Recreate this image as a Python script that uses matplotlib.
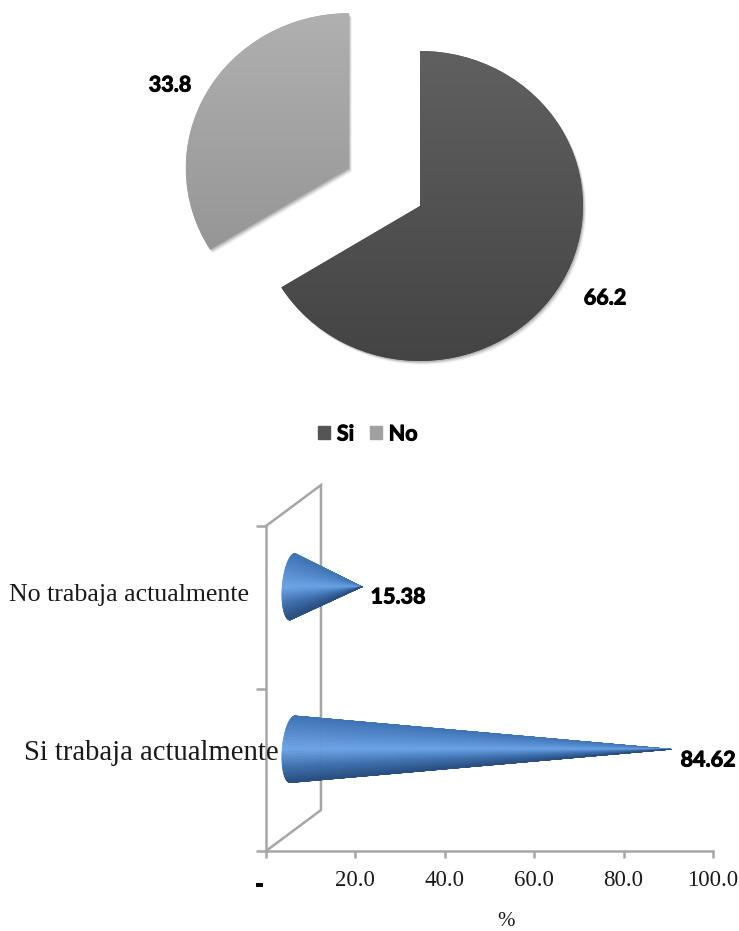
import numpy as np
import matplotlib
matplotlib.use("Agg")
import matplotlib.pyplot as plt
import matplotlib.patheffects as pe
from matplotlib.collections import PolyCollection
from matplotlib.colors import LinearSegmentedColormap
from matplotlib.patches import Patch
from matplotlib.transforms import ScaledTranslation

pie_labels = ['Si', 'No']
pie_values = [66.2, 33.8]
pie_colors = ['#555555', '#a0a0a0']
pie_grads = [['#606060', '#444444'], ['#b0b0b0', '#8e8e8e']]

cone_labels = ['Si trabaja actualmente', 'No trabaja actualmente']
cone_values = [84.62, 15.38]
x_ticks = [0, 20, 40, 60, 80, 100]
x_ticklabels = ['-', '20.0', '40.0', '60.0', '80.0', '100.0']

W, H = 739, 931
fig = plt.figure(figsize=(W / 100, H / 100), dpi=100)
serif = 'Liberation Serif'
bold = 'Lato'
grey = '#a6a6a6'
ink = '#1a1a1a'
heavy = [pe.withStroke(linewidth=0.7, foreground='black')]

# pie, slightly squashed like the 3D view in the original
rx, ry = 163, 155
cx, cy = 420, 206
xl = (-2.0, 1.2)
yl = (-1.2, 1.32)
ax = fig.add_axes([(cx + xl[0] * rx) / W, (H - cy + yl[0] * ry) / H,
                   (xl[1] - xl[0]) * rx / W, (yl[1] - yl[0]) * ry / H])
wedges, _ = ax.pie(pie_values, startangle=90, counterclock=False,
                   explode=[0, 0.5], colors=pie_colors)
ax.set_aspect('auto')
for w, g in zip(wedges, pie_grads):
    cmap = LinearSegmentedColormap.from_list('g', g)
    im = ax.imshow(np.linspace(0, 1, 256).reshape(-1, 1), cmap=cmap,
                   extent=(w.center[0] - 1, w.center[0] + 1, w.center[1] - 1, w.center[1] + 1),
                   origin='upper', aspect='auto', zorder=3)
    im.set_clip_path(w)
    w.set_edgecolor('none')
    # soft shadow under the slice
    w.set_path_effects([pe.SimplePatchShadow(offset=(2.2, -2.6), shadow_rgbFace='k', alpha=0.06),
                        pe.SimplePatchShadow(offset=(1.5, -1.8), shadow_rgbFace='k', alpha=0.10),
                        pe.SimplePatchShadow(offset=(0.8, -1), shadow_rgbFace='k', alpha=0.14),
                        pe.Normal()])
ax.set_xlim(xl)
ax.set_ylim(yl)
ax.set_axis_off()

def px_text(x, y, s, **kw):
    return fig.text(x / W, 1 - y / H, s, va='center', **kw)

def val_text(x, y, s):
    px_text(x, y, s, family=bold, weight='bold', size=15.5, ha='center', color='black',
            path_effects=heavy)

val_text(170, 85, f'{pie_values[1]}')
val_text(605, 298, f'{pie_values[0]}')

handles = [Patch(color=c, label=l) for c, l in zip(pie_colors, pie_labels)]
leg = fig.legend(handles=handles, loc='center', bbox_to_anchor=(368 / W, 1 - 434 / H), ncol=2,
                 frameon=False, handlelength=0.56, handleheight=0.56, handletextpad=0.3,
                 columnspacing=0.75, prop={'family': bold, 'weight': 'bold', 'size': 15.5})
for t in leg.get_texts():
    t.set_path_effects(heavy)

# cones
ax2 = fig.add_axes([266 / W, (H - 851) / H, 447 / W, 325 / H])
ax2.set_xlim(0, 100)
ax2.set_ylim(0, 2)
ax2.patch.set_visible(False)
for s in ['top', 'right']:
    ax2.spines[s].set_visible(False)
for s in ['left', 'bottom']:
    ax2.spines[s].set_color(grey)
    ax2.spines[s].set_linewidth(1.8)
ax2.set_xticks(x_ticks)
ax2.set_xticklabels(x_ticklabels, family=serif, size=16.5)
ax2.set_yticks([0, 1, 2])
ax2.set_yticklabels([])
ax2.tick_params(axis='x', color=grey, width=1.8, length=5, pad=9, labelcolor=ink)
ax2.tick_params(axis='y', color=grey, width=1.8, length=7)
zero = ax2.get_xticklabels()[0]
zero.set_family(bold)
zero.set_fontweight('bold')
zero.set_size(17)
zero.set_color('black')
zero.set_path_effects(heavy)
zero.set_transform(zero.get_transform() + ScaledTranslation(-7 / 100, -2 / 100, fig.dpi_scale_trans))

# back wall
dx, dy = 12.3, 0.252
ax2.plot([0, dx, dx, 0], [0, dy, 2 + dy, 2], color=grey, lw=1.8, clip_on=False,
         solid_joinstyle='miter', zorder=1)

cone_cmap = LinearSegmentedColormap.from_list(
    'cone', ['#2a4f80', '#3f72b0', '#6aa2e6', '#5389cc', '#3f74b4'])
th = np.linspace(np.pi / 2, 3 * np.pi / 2, 161)
for i, v in enumerate(cone_values):
    yc = i + 0.5 + dy / 2
    xc = dx / 2 - 0.2
    bx = xc + 2.35 * np.cos(th) + 0.56 * np.sin(th)
    by = yc + 0.206 * np.sin(th)
    tip = (dx / 2 + v, yc)
    polys = [[(bx[k], by[k]), (bx[k + 1], by[k + 1]), tip] for k in range(len(th) - 1)]
    shade = (np.sin((th[:-1] + th[1:]) / 2) + 1) / 2
    pc = PolyCollection(polys, array=shade, cmap=cone_cmap, clim=(0, 1),
                        edgecolors='face', linewidths=0.3, clip_on=False, zorder=3)
    ax2.add_collection(pc)

# labels
label_right = [279, 249]
label_y = [753, 595]
label_size = [20.6, 18.6]
for lab, r, y, sz in zip(cone_labels, label_right, label_y, label_size):
    px_text(r, y, lab, family=serif, size=sz, ha='right', color=ink)
val_x = [708, 398]
val_y = [760, 597]
for v, x, y in zip(cone_values, val_x, val_y):
    val_text(x, y, f'{v:.2f}')
px_text(506, 921, '%', family=serif, size=15, ha='center', color=ink)

fig.savefig('out.png', dpi=100)
